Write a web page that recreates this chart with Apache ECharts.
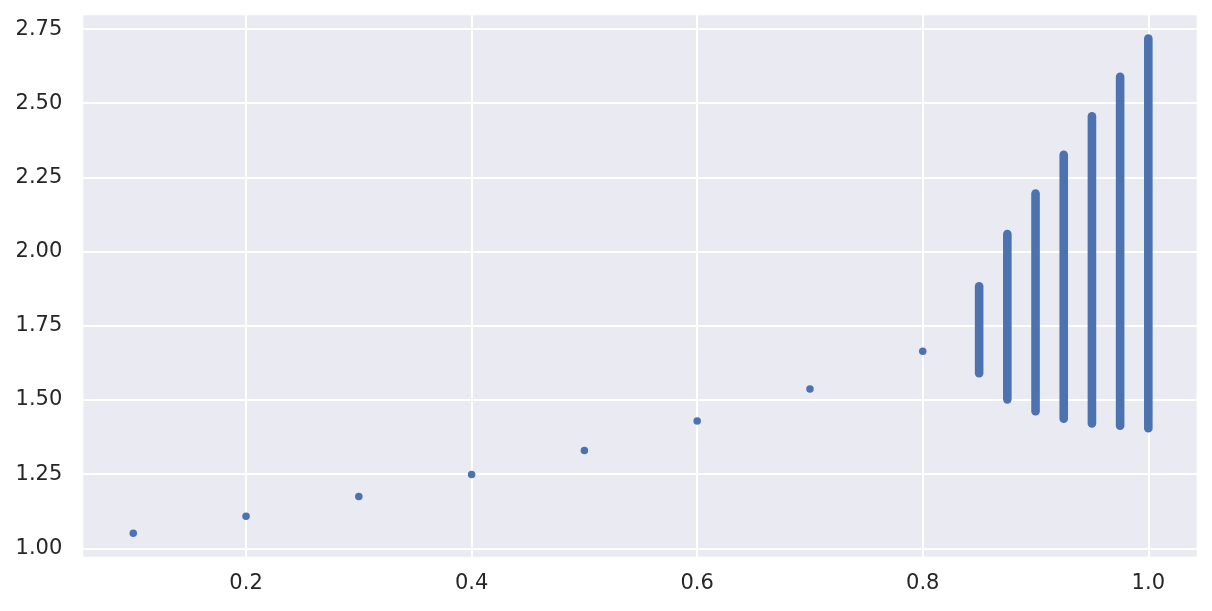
<!DOCTYPE html>
<html>
<head>
<meta charset="utf-8">
<script src="https://cdn.jsdelivr.net/npm/echarts@6/dist/echarts.min.js"></script>
<style>
html,body{margin:0;padding:0;background:#fff;}
#chart{width:1212px;height:611px;}
</style>
</head>
<body>
<div id="chart"></div>
<script>
// Single points
const singleX = [0.1, 0.2, 0.3, 0.4, 0.5, 0.6, 0.7, 0.8];
const singleY = [1.051, 1.108, 1.175, 1.249, 1.330, 1.429, 1.537, 1.664];
// Dense columns of points (drawn as their low..high extent)
const columnX = [0.85, 0.875, 0.9, 0.925, 0.95, 0.975, 1.0];
const columnLow = [1.590, 1.502, 1.462, 1.437, 1.421, 1.413, 1.405];
const columnHigh = [1.883, 2.059, 2.196, 2.326, 2.456, 2.589, 2.718];
// Tick labels
const xTicks = [0.2, 0.4, 0.6, 0.8, 1.0];
const yTicks = [1.00, 1.25, 1.50, 1.75, 2.00, 2.25, 2.50, 2.75];

const blue = '#4C72B0';
const labelStyle = {color: '#262626', fontFamily: 'DejaVu Sans', fontSize: 21};

const chart = echarts.init(document.getElementById('chart'), null, {renderer: 'canvas'});
chart.setOption({
  animation: false,
  backgroundColor: '#ffffff',
  grid: {
    left: 83.3, right: 15.3, top: 15.3, bottom: 54.3,
    containLabel: false, outerBoundsMode: 'none',
    show: true, backgroundColor: '#EAEAF2', borderWidth: 0
  },
  xAxis: {
    type: 'value', min: 0.0557, max: 1.0429,
    axisLine: {show: false},
    axisTick: {show: false, customValues: xTicks},
    axisLabel: Object.assign({margin: 16, customValues: xTicks, formatter: v => v.toFixed(1)}, labelStyle),
    splitLine: {show: true, lineStyle: {color: '#ffffff', width: 2}}
  },
  yAxis: {
    type: 'value', min: 0.9717, max: 2.7964,
    axisLine: {show: false},
    axisTick: {show: false, customValues: yTicks},
    axisLabel: Object.assign({margin: 21, padding: [5, 0, 0, 0], customValues: yTicks, formatter: v => v.toFixed(2)}, labelStyle),
    splitLine: {show: true, lineStyle: {color: '#ffffff', width: 2}}
  },
  series: [
    {
      type: 'scatter',
      data: singleX.map((x, i) => [x, singleY[i]]),
      symbolSize: 7.5,
      itemStyle: {color: blue, opacity: 1},
      z: 3
    },
    {
      type: 'custom',
      data: columnX.map((x, i) => [x, columnLow[i], columnHigh[i]]),
      encode: {x: 0, y: [1, 2]},
      renderItem: function (params, api) {
        const p1 = api.coord([api.value(0), api.value(1)]);
        const p2 = api.coord([api.value(0), api.value(2)]);
        return {
          type: 'line',
          shape: {x1: p1[0], y1: p1[1], x2: p2[0], y2: p2[1]},
          style: {stroke: blue, lineWidth: 8.6, lineCap: 'round', fill: null}
        };
      },
      z: 3
    }
  ]
});
</script>
</body>
</html>
